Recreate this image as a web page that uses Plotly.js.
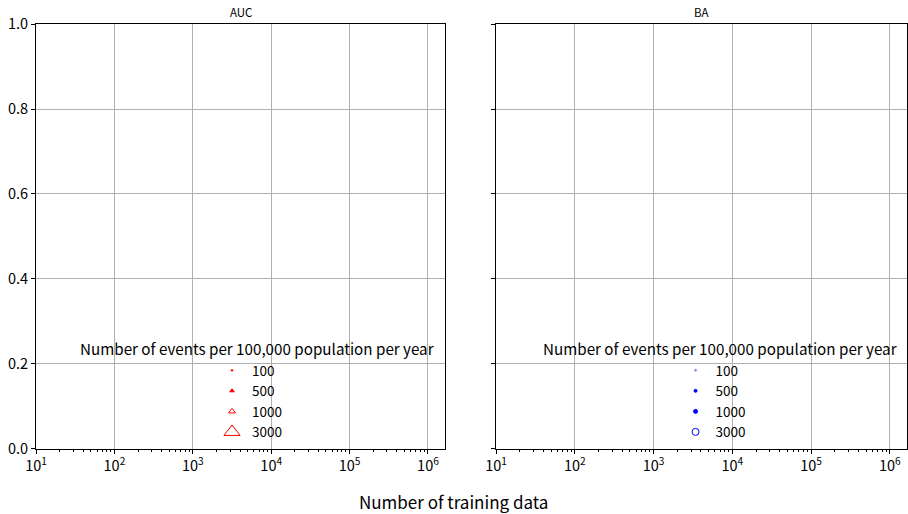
<!DOCTYPE html>
<html>
<head>
<meta charset="utf-8">
<script src="https://cdn.plot.ly/plotly-3.0.1.min.js"></script>
<style>html,body{margin:0;padding:0;background:#fff;}#chart{width:908px;height:514px;}</style>
</head>
<body>
<div id="chart"></div>
<script>
// ---- data ----
const eventRates = ["100", "500", "1000", "3000"];
const aucX = [[], [], [], []];
const aucY = [[], [], [], []];
const baX = [[], [], [], []];
const baY = [[], [], [], []];
const xTickVals = [10, 100, 1000, 10000, 100000, 1000000];
const xTickText = ["10<sup>1</sup>", "10<sup>2</sup>", "10<sup>3</sup>", "10<sup>4</sup>", "10<sup>5</sup>", "10<sup>6</sup>"];
const yTickVals = [0, 0.2, 0.4, 0.6, 0.8, 1.0];
const yTickText = ["0.0", "0.2", "0.4", "0.6", "0.8", "1.0"];
const subplotTitles = ["AUC", "BA"];
const legendTitle = "Number of events per 100,000 population per year";
const xTitle = "Number of training data";

// ---- styles ----
const FONT = '"Noto Sans CJK JP", "Noto Sans", sans-serif';
const aucSym = ["triangle-up", "triangle-up", "triangle-up-open", "triangle-up-open"];
const aucSize = [2, 4, 6, 14];
const baSym = ["circle", "circle", "circle", "circle-open"];
const baSize = [2, 3, 4, 7];
const baColor = ["rgba(120,120,255,0.8)", "blue", "blue", "blue"];

const minorVals = [];
for (let e = 1; e <= 6; e++) for (let m = 2; m <= 9; m++) minorVals.push(m * Math.pow(10, e));

const traces = [];
eventRates.forEach((r, i) => {
  traces.push({
    type: 'scatter', mode: 'markers', x: aucX[i].length ? aucX[i] : [null], y: aucY[i].length ? aucY[i] : [null],
    xaxis: 'x', yaxis: 'y', name: r, legend: 'legend',
    marker: {symbol: aucSym[i], size: aucSize[i], color: 'red', line: {color: 'red', width: 1}}
  });
});
eventRates.forEach((r, i) => {
  traces.push({
    type: 'scatter', mode: 'markers', x: baX[i].length ? baX[i] : [null], y: baY[i].length ? baY[i] : [null],
    xaxis: 'x2', yaxis: 'y2', name: r, legend: 'legend2',
    marker: {symbol: baSym[i], size: baSize[i], color: baColor[i], line: {color: baColor[i], width: 1}}
  });
});

const xr = [1, Math.log10(1.65e6)];
function xax(domain, anchor) {
  return {
    type: 'log', range: xr, domain: domain, anchor: anchor,
    tickvals: xTickVals, ticktext: xTickText, ticks: 'outside', ticklen: 4, tickcolor: '#000',
    showgrid: true, gridcolor: '#b0b0b0', gridwidth: 1,
    showline: true, mirror: true, linecolor: '#000', linewidth: 1,
    zeroline: false, automargin: false,
    tickfont: {family: FONT, size: 14.5, color: '#000'},
    minor: {tickvals: minorVals, ticks: 'outside', ticklen: 2, tickcolor: '#000', showgrid: false}
  };
}
function yax(anchor, labels) {
  return {
    range: [0, 1], domain: [0.1265, 0.9533], anchor: anchor,
    tickvals: yTickVals, ticktext: yTickText, showticklabels: labels,
    ticks: 'outside', ticklen: 4, tickcolor: '#000',
    showgrid: true, gridcolor: '#b0b0b0', gridwidth: 1,
    showline: true, mirror: true, linecolor: '#000', linewidth: 1,
    zeroline: false, automargin: false,
    tickfont: {family: FONT, size: 14.5, color: '#000'}
  };
}

const legStyle = (x) => ({
  x: x, y: 1 - 355 / 514, xref: 'paper', yref: 'paper', xanchor: 'left', yanchor: 'top',
  bgcolor: 'rgba(0,0,0,0)', borderwidth: 0, tracegroupgap: 0,
  font: {family: FONT, size: 13.5, color: '#000'}, itemwidth: 30
});

const layout = {
  width: 908, height: 514,
  margin: {l: 0, r: 0, t: 0, b: 0},
  paper_bgcolor: '#fff', plot_bgcolor: '#fff',
  showlegend: true,
  xaxis: xax([0.0397, 0.4901], 'y'),
  yaxis: yax('x', true),
  xaxis2: xax([0.5463, 0.9989], 'y2'),
  yaxis2: yax('x2', false),
  legend: legStyle(0.2335),
  legend2: legStyle(0.744),
  annotations: [
    {text: subplotTitles[0], x: 0.265, y: 0.9767, xref: 'paper', yref: 'paper', showarrow: false, xanchor: 'center', yanchor: 'middle', font: {family: FONT, size: 11.5, color: '#000'}},
    {text: subplotTitles[1], x: 0.7726, y: 0.9767, xref: 'paper', yref: 'paper', showarrow: false, xanchor: 'center', yanchor: 'middle', font: {family: FONT, size: 11.5, color: '#000'}},
    {text: legendTitle, x: 257 / 908, y: 1 - 347.5 / 514, xref: 'paper', yref: 'paper', showarrow: false, xanchor: 'center', yanchor: 'middle', font: {family: FONT, size: 15.2, color: '#000'}},
    {text: legendTitle, x: 720 / 908, y: 1 - 347.5 / 514, xref: 'paper', yref: 'paper', showarrow: false, xanchor: 'center', yanchor: 'middle', font: {family: FONT, size: 15.2, color: '#000'}},
    {text: xTitle, x: 453 / 908, y: 1 - 501 / 514, xref: 'paper', yref: 'paper', showarrow: false, xanchor: 'center', yanchor: 'middle', font: {family: FONT, size: 17, color: '#000'}}
  ]
};

Plotly.newPlot('chart', traces, layout, {displayModeBar: false, staticPlot: true});
</script>
</body>
</html>
